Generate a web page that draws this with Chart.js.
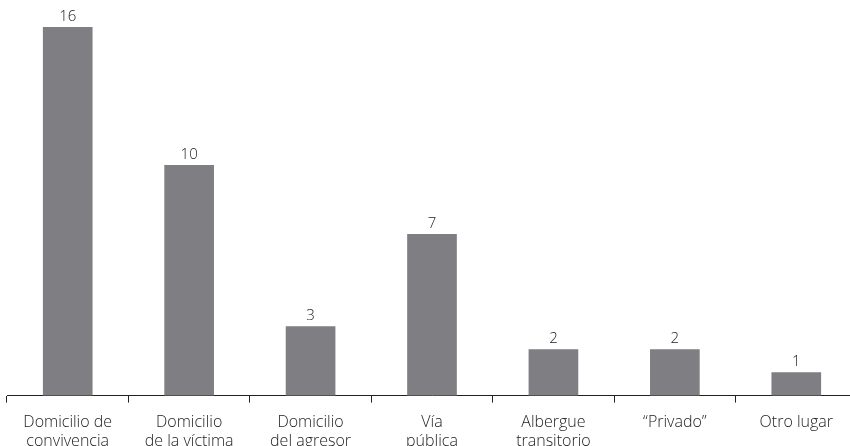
<!DOCTYPE html>
<html>
<head>
<meta charset="utf-8">
<script src="https://cdn.jsdelivr.net/npm/chart.js@4"></script>
<style>
  html, body { margin: 0; padding: 0; background: #fff; overflow: hidden; height: 446px; }
  #wrap { width: 858px; height: 461px; }
</style>
</head>
<body>
<div id="wrap"><canvas id="chart"></canvas></div>
<script>
const categories = [
    ["Domicilio de", "convivencia"],
    ["Domicilio", "de la víctima"],
    ["Domicilio", "del agresor"],
    ["Vía", "pública"],
    ["Albergue", "transitorio"],
    "\u201cPrivado\u201d",
    "Otro lugar"
];
const values = [16, 10, 3, 7, 2, 2, 1];

const fontFamily = "'Open Sans', 'Noto Sans', sans-serif";

// draws the number on top of each bar
const valueLabels = {
    id: "valueLabels",
    afterDatasetsDraw(chart) {
        const ctx = chart.ctx;
        const meta = chart.getDatasetMeta(0);
        ctx.save();
        ctx.font = "300 15px " + fontFamily;
        ctx.fillStyle = "#222";
        ctx.textAlign = "center";
        ctx.textBaseline = "bottom";
        meta.data.forEach((bar, i) => {
            ctx.fillText(values[i], bar.x, bar.y - 3);
        });
        ctx.restore();
    }
};

new Chart(document.getElementById("chart"), {
    type: "bar",
    data: {
        labels: categories,
        datasets: [{
            data: values,
            backgroundColor: "#7e7e83",
            barThickness: 49
        }]
    },
    options: {
        responsive: true,
        maintainAspectRatio: false,
        animation: false,
        layout: { padding: { top: 27, left: 7, right: 1, bottom: 0 } },
        plugins: {
            legend: { display: false },
            tooltip: { enabled: false }
        },
        scales: {
            x: {
                grid: {
                    offset: true,
                    drawOnChartArea: false,
                    drawTicks: true,
                    tickLength: 7,
                    color: "#222"
                },
                border: { display: true, color: "#222", width: 1 },
                ticks: {
                    color: "#222",
                    padding: 10,
                    maxRotation: 0,
                    autoSkip: false,
                    font: { family: fontFamily, size: 16, weight: "300", lineHeight: 1.2 }
                }
            },
            y: {
                display: false,
                min: 0,
                max: 16
            }
        }
    },
    plugins: [valueLabels]
});
</script>
</body>
</html>
